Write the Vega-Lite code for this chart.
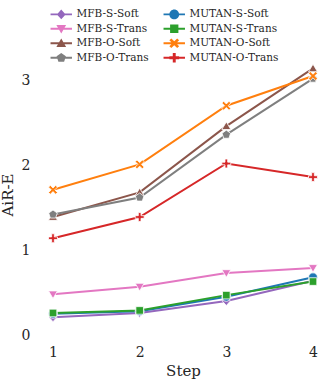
{
  "$schema": "https://vega.github.io/schema/vega-lite/v6.json",
  "autosize": {"type": "none"},
  "padding": {"left": 40, "top": 48, "right": 6, "bottom": 39},
  "width": 286,
  "height": 293,
  "background": "white",
  "config": {
    "view": {"stroke": null},
    "font": "DejaVu Serif",
    "axis": {"domain": false, "ticks": false, "grid": false, "labelFont": "DejaVu Serif", "titleFont": "DejaVu Serif", "labelFontSize": 14, "titleFontSize": 15, "labelColor": "#262626", "titleColor": "#262626", "titleFontWeight": "normal"},
    "legend": {"labelFont": "DejaVu Serif", "labelFontSize": 10.5, "labelColor": "#262626"}
  },
  "data": {
    "values": [
      {"step": 1, "series": "MFB-S-Soft", "value": 0.21},
      {"step": 2, "series": "MFB-S-Soft", "value": 0.26},
      {"step": 3, "series": "MFB-S-Soft", "value": 0.40},
      {"step": 4, "series": "MFB-S-Soft", "value": 0.64},
      {"step": 1, "series": "MFB-S-Trans", "value": 0.48},
      {"step": 2, "series": "MFB-S-Trans", "value": 0.57},
      {"step": 3, "series": "MFB-S-Trans", "value": 0.73},
      {"step": 4, "series": "MFB-S-Trans", "value": 0.79},
      {"step": 1, "series": "MFB-O-Soft", "value": 1.39},
      {"step": 2, "series": "MFB-O-Soft", "value": 1.68},
      {"step": 3, "series": "MFB-O-Soft", "value": 2.46},
      {"step": 4, "series": "MFB-O-Soft", "value": 3.14},
      {"step": 1, "series": "MFB-O-Trans", "value": 1.42},
      {"step": 2, "series": "MFB-O-Trans", "value": 1.62},
      {"step": 3, "series": "MFB-O-Trans", "value": 2.36},
      {"step": 4, "series": "MFB-O-Trans", "value": 3.02},
      {"step": 1, "series": "MUTAN-S-Soft", "value": 0.25},
      {"step": 2, "series": "MUTAN-S-Soft", "value": 0.28},
      {"step": 3, "series": "MUTAN-S-Soft", "value": 0.45},
      {"step": 4, "series": "MUTAN-S-Soft", "value": 0.68},
      {"step": 1, "series": "MUTAN-S-Trans", "value": 0.26},
      {"step": 2, "series": "MUTAN-S-Trans", "value": 0.29},
      {"step": 3, "series": "MUTAN-S-Trans", "value": 0.47},
      {"step": 4, "series": "MUTAN-S-Trans", "value": 0.63},
      {"step": 1, "series": "MUTAN-O-Soft", "value": 1.71},
      {"step": 2, "series": "MUTAN-O-Soft", "value": 2.01},
      {"step": 3, "series": "MUTAN-O-Soft", "value": 2.70},
      {"step": 4, "series": "MUTAN-O-Soft", "value": 3.05},
      {"step": 1, "series": "MUTAN-O-Trans", "value": 1.14},
      {"step": 2, "series": "MUTAN-O-Trans", "value": 1.39},
      {"step": 3, "series": "MUTAN-O-Trans", "value": 2.02},
      {"step": 4, "series": "MUTAN-O-Trans", "value": 1.86}
    ]
  },
  "encoding": {
    "x": {"field": "step", "type": "quantitative", "title": "Step", "scale": {"domain": [0.85, 4.15], "nice": false, "zero": false}, "axis": {"values": [1, 2, 3, 4], "format": "d", "labelPadding": 4, "titlePadding": 4, "labelFont": "DejaVu Serif"}},
    "y": {"field": "value", "type": "quantitative", "title": "AiR-E", "scale": {"domain": [-0.07, 3.38], "nice": false, "zero": false}, "axis": {"values": [0, 1, 2, 3], "format": "d", "labelPadding": 10, "titlePadding": 6, "labelFont": "DejaVu Serif"}},
    "color": {
      "field": "series", "type": "nominal", "title": null,
      "scale": {
        "domain": ["MFB-S-Soft", "MFB-S-Trans", "MFB-O-Soft", "MFB-O-Trans", "MUTAN-S-Soft", "MUTAN-S-Trans", "MUTAN-O-Soft", "MUTAN-O-Trans"],
        "range": ["#9467bd", "#e377c2", "#8c564b", "#7f7f7f", "#1f77b4", "#2ca02c", "#ff7f0e", "#d62728"]
      },
      "legend": null
    }
  },
  "resolve": {"scale": {"color": "independent", "shape": "independent"}},
  "layer": [
    {
      "mark": {"type": "line", "strokeWidth": 2},
      "encoding": {"detail": {"field": "series"}}
    },
    {
      "mark": {"type": "point", "filled": true, "opacity": 1, "stroke": "white", "strokeWidth": 0.8, "size": 80},
      "encoding": {
        "shape": {
          "field": "series", "type": "nominal", "title": null, "legend": null,
          "scale": {
            "domain": ["MFB-S-Soft", "MFB-S-Trans", "MFB-O-Soft", "MFB-O-Trans", "MUTAN-S-Soft", "MUTAN-S-Trans", "MUTAN-O-Soft", "MUTAN-O-Trans"],
            "range": [
              "M0,-1L0.9,0L0,1L-0.9,0Z",
              "M-1,-0.75L1,-0.75L0,0.95Z",
              "M-1,0.75L0,-0.95L1,0.75Z",
              "M0,-1L0.951,-0.309L0.588,0.809L-0.588,0.809L-0.951,-0.309Z",
              "M1,0A1,1,0,1,1,-1,0A1,1,0,1,1,1,0Z",
              "M-0.85,-0.85H0.85V0.85H-0.85Z",
              "M-1,-0.6L-0.6,-1L0,-0.4L0.6,-1L1,-0.6L0.4,0L1,0.6L0.6,1L0,0.4L-0.6,1L-1,0.6L-0.4,0Z",
              "M-0.3,-1H0.3V-0.3H1V0.3H0.3V1H-0.3V0.3H-1V-0.3H-0.3Z"
            ]
          }
        }
      }
    },
    {
      "mark": {"type": "point", "filled": true, "opacity": 0, "strokeWidth": 0, "size": 80},
      "encoding": {
        "color": {
          "field": "series", "type": "nominal", "title": null,
          "scale": {
            "domain": ["MFB-S-Soft", "MFB-S-Trans", "MFB-O-Soft", "MFB-O-Trans", "MUTAN-S-Soft", "MUTAN-S-Trans", "MUTAN-O-Soft", "MUTAN-O-Trans"],
            "range": ["#9467bd", "#e377c2", "#8c564b", "#7f7f7f", "#1f77b4", "#2ca02c", "#ff7f0e", "#d62728"]
          },
          "legend": {
            "orient": "none", "legendX": 16, "legendY": -39, "columns": 2, "columnPadding": 14, "rowPadding": 3.5,
            "symbolSize": 95, "symbolOpacity": 1, "symbolStrokeWidth": 0, "labelOffset": 10, "labelFont": "DejaVu Serif"
          }
        },
        "shape": {
          "field": "series", "type": "nominal", "title": null,
          "scale": {
            "domain": ["MFB-S-Soft", "MFB-S-Trans", "MFB-O-Soft", "MFB-O-Trans", "MUTAN-S-Soft", "MUTAN-S-Trans", "MUTAN-O-Soft", "MUTAN-O-Trans"],
            "range": [
              "M-2.2,-0.2H2.2V0.2H-2.2ZM0,-1L0.9,0L0,1L-0.9,0Z",
              "M-2.2,-0.2H2.2V0.2H-2.2ZM-1,-0.75L1,-0.75L0,0.95Z",
              "M-2.2,-0.2H2.2V0.2H-2.2ZM-1,0.75L0,-0.95L1,0.75Z",
              "M-2.2,-0.2H2.2V0.2H-2.2ZM0,-1L0.951,-0.309L0.588,0.809L-0.588,0.809L-0.951,-0.309Z",
              "M-2.2,-0.2H2.2V0.2H-2.2ZM1,0A1,1,0,1,1,-1,0A1,1,0,1,1,1,0Z",
              "M-2.2,-0.2H2.2V0.2H-2.2ZM-0.85,-0.85H0.85V0.85H-0.85Z",
              "M-2.2,-0.2H2.2V0.2H-2.2ZM-1,-0.6L-0.6,-1L0,-0.4L0.6,-1L1,-0.6L0.4,0L1,0.6L0.6,1L0,0.4L-0.6,1L-1,0.6L-0.4,0Z",
              "M-2.2,-0.2H2.2V0.2H-2.2ZM-0.3,-1H0.3V-0.3H1V0.3H0.3V1H-0.3V0.3H-1V-0.3H-0.3Z"
            ]
          },
          "legend": {
            "orient": "none", "legendX": 16, "legendY": -39, "columns": 2, "columnPadding": 14, "rowPadding": 3.5,
            "symbolSize": 95, "symbolOpacity": 1, "symbolStrokeWidth": 0, "labelOffset": 10, "labelFont": "DejaVu Serif"
          }
        }
      }
    }
  ]
}
